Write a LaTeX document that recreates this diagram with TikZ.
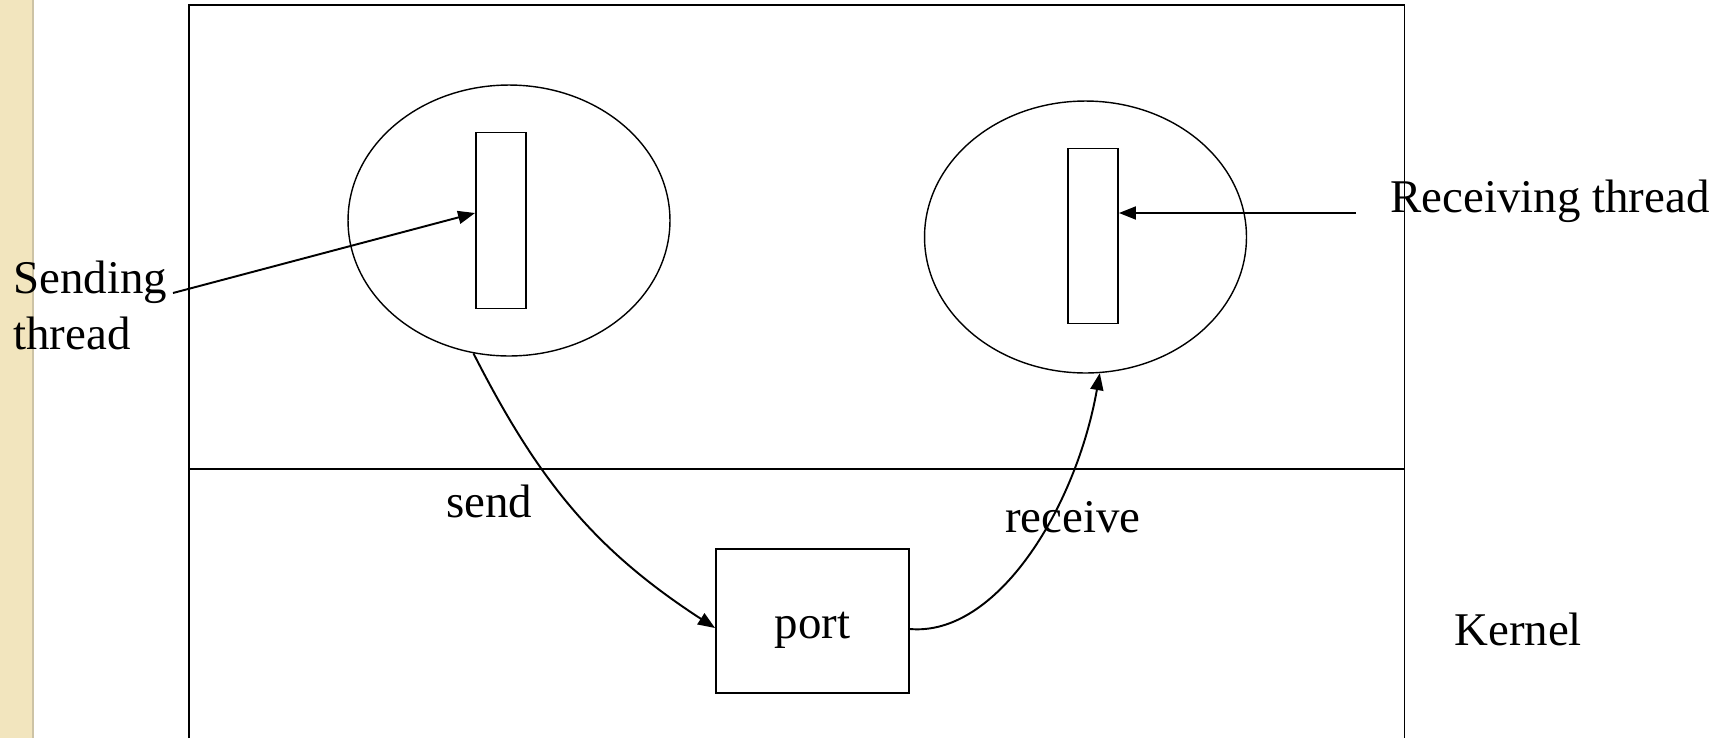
\documentclass[tikz,border=0pt]{standalone}
\usepackage{fontspec}
\setmainfont{Liberation Serif}
\usetikzlibrary{shapes.geometric,arrows.meta}

\definecolor{stripbg}{RGB}{242,229,190}
\definecolor{stripedge}{RGB}{205,195,165}

\begin{document}
\begin{tikzpicture}[x=0.02cm, y=0.02cm,
	txt/.style={font=\fontsize{26.7pt}{31.8pt}\selectfont},
	lbl/.style={txt, inner sep=0pt, anchor=base west},
	thread/.style={draw, line width=1.1pt, minimum width=1cm, minimum height=3.52cm, inner sep=0pt},
	proc/.style={draw, ellipse, line width=0.8pt, minimum width=6.44cm, minimum height=5.42cm, inner sep=0pt},
	msg/.style={line width=1.1pt, -{Triangle[length=0.34cm, width=0.26cm]}}]
\useasboundingbox (0,0) rectangle (1724,-738);
% margin strip
\fill[stripbg] (0,0) rectangle (33,-738);
\draw[stripedge, line width=1pt] (33,0) -- (33,-738);
% user space and kernel
\draw[line width=1.1pt] (189,-738) |- (1404.5,-5) -- (1404.5,-738);
\draw[line width=1pt] (189,-469) -- (1404.5,-469);

% processes with their threads
\node[proc] (lproc) at (509,-220.5) {};
\node[proc, minimum height=5.44cm] (rproc) at (1085.5,-237) {};
\node[thread] (lthr) at (501,-220.5) {};
\node[thread, minimum height=3.5cm] (rthr) at (1093,-236) {};
\node[txt, draw, line width=1.1pt, minimum width=3.86cm, minimum height=2.88cm, inner sep=0pt, text height=0.68cm, text depth=0pt] (port) at (812.5,-621) {port};

% labels
\node[lbl, anchor=north west, align=left] (snd) at (13,-261) {Sending\\thread};
\node[lbl] (rcv) at (1390,-212) {Receiving thread};
\node[lbl] (sendlbl) at (446,-517) {send};
\node[lbl] (recvlbl) at (1005,-532) {receive};
\node[lbl] (kern) at (1454,-645) {Kernel};

% arrows
\coordinate (sndtail) at (173,-293);
\draw[msg] (sndtail) -- ([yshift=0.15cm]lthr.west);
\coordinate (rcvtail) at (1356,-213);
\draw[msg] (rcvtail) -- (rcvtail -| rthr.east);
\draw[msg] (lproc.255) to[out=-63, in=147] ([yshift=-0.14cm]port.west);
\draw[msg] ([yshift=-0.16cm]port.east) to[out=-5, in=-100, out looseness=0.7, in looseness=1.1] (rproc.276);
\end{tikzpicture}
\end{document}
